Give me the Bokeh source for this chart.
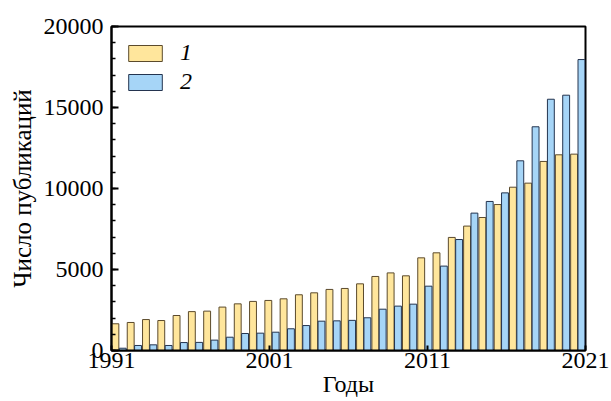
from bokeh.plotting import figure
from bokeh.models import (ColumnDataSource, Range1d, LinearAxis, FixedTicker,
                          SingleIntervalTicker, Legend, LegendItem)
from bokeh.transform import dodge
from bokeh.embed import file_html
from bokeh.resources import INLINE

# ---- data ----
years = list(range(1991, 2022))
series1 = [1650, 1730, 1910, 1850, 2160, 2400, 2430, 2680, 2880, 3030,
           3090, 3190, 3440, 3560, 3770, 3830, 4115, 4570, 4790, 4610,
           5720, 6030, 6980, 7680, 8210, 9010, 10080, 10330, 11670, 12080, 12120]
series2 = [140, 310, 350, 310, 490, 500, 640, 820, 1050, 1070,
           1130, 1340, 1540, 1810, 1830, 1860, 2020, 2550, 2740, 2860,
           3970, 5210, 6850, 8480, 9200, 9730, 11710, 13810, 15510, 15760, 17960]
x_ticks = [1991, 2001, 2011, 2021]
legend_labels = ["1", "2"]
x_label = "Годы"
y_label = "Число публикаций"

FONT = "Liberation Serif"
idx = [i + 0.5 for i in range(len(years))]
src = ColumnDataSource(dict(idx=idx, year=years, s1=series1, s2=series2))

p = figure(width=611, height=401, output_backend="svg", toolbar_location=None,
           x_range=Range1d(0, len(years)), y_range=Range1d(0, 20000),
           x_axis_location=None,
           min_border_left=111, min_border_right=26, min_border_top=26,
           min_border_bottom=51)
p.xgrid.visible = False
p.ygrid.visible = False
p.outline_line_color = "black"
p.outline_line_width = 2
p.background_fill_color = "white"
p.border_fill_color = "white"

r1 = p.vbar(x=dodge("idx", -0.245, range=p.x_range), top="s1", width=0.45, bottom=0,
            source=src, fill_color="#FFE69C", line_color="#5b4a2c", line_width=1)
r2 = p.vbar(x=dodge("idx", 0.235, range=p.x_range), top="s2", width=0.45, bottom=0,
            source=src, fill_color="#A6D5F7", line_color="#24344f", line_width=1)

# y axis
ya = p.yaxis[0]
ya.ticker = SingleIntervalTicker(interval=5000, num_minor_ticks=5)
ya.major_tick_in = 7
ya.major_tick_out = 0
ya.minor_tick_in = 4
ya.minor_tick_out = 0
ya.axis_line_width = 2
ya.major_tick_line_width = 2
ya.minor_tick_line_width = 1.5
ya.major_label_text_font = FONT
ya.major_label_text_font_size = "24px"
ya.major_label_text_color = "black"
ya.major_label_standoff = 8
ya.axis_label = y_label
ya.axis_label_text_font = FONT
ya.axis_label_text_font_size = "25px"
ya.axis_label_text_font_style = "normal"
ya.axis_label_text_color = "black"
ya.axis_label_standoff = 5

# x axis on year range
p.extra_x_ranges = {"yr": Range1d(years[0], years[-1])}
xa = LinearAxis(x_range_name="yr", ticker=FixedTicker(ticks=x_ticks, minor_ticks=[]))
xa.major_tick_in = 5
xa.major_tick_out = 0
xa.minor_tick_in = 0
xa.minor_tick_out = 0
xa.axis_line_width = 2
xa.major_tick_line_width = 2
xa.major_label_text_font = FONT
xa.major_label_text_font_size = "24px"
xa.major_label_text_color = "black"
xa.major_label_standoff = 2
xa.axis_label = x_label
xa.axis_label_text_font = FONT
xa.axis_label_text_font_size = "24px"
xa.axis_label_text_font_style = "normal"
xa.axis_label_text_color = "black"
xa.axis_label_standoff = 0
p.add_layout(xa, "below")

legend = Legend(items=[LegendItem(label=legend_labels[0], renderers=[r1]),
                       LegendItem(label=legend_labels[1], renderers=[r2])],
                location="top_left")
legend.label_text_font = FONT
legend.label_text_font_style = "italic"
legend.label_text_font_size = "24px"
legend.label_text_color = "black"
legend.glyph_width = 42
legend.glyph_height = 20
legend.spacing = 2
legend.margin = 13
legend.padding = 9
legend.label_standoff = 14
legend.border_line_color = None
legend.background_fill_alpha = 0
p.add_layout(legend)

open("out.html", "w").write(file_html(p, INLINE))
